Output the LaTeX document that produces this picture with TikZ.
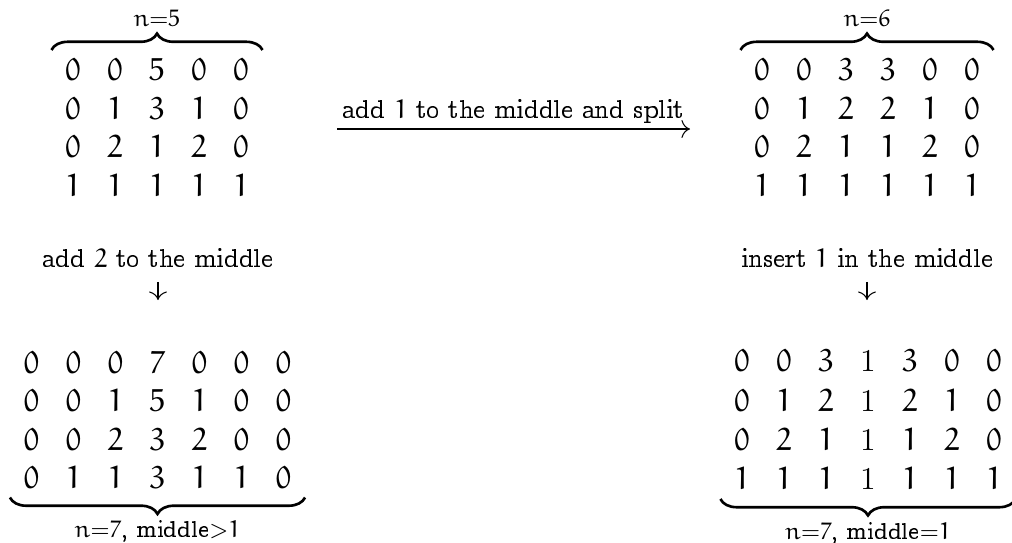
\documentclass[tikz,border=0pt]{standalone}
\usepackage[OT1]{fontenc}
\renewcommand{\rmdefault}{ccr}
\DeclareSymbolFont{eulerletters}{U}{eur}{m}{n}
\DeclareMathSymbol{0}{\mathalpha}{eulerletters}{`0}
\DeclareMathSymbol{1}{\mathalpha}{eulerletters}{`1}
\DeclareMathSymbol{2}{\mathalpha}{eulerletters}{`2}
\DeclareMathSymbol{3}{\mathalpha}{eulerletters}{`3}
\DeclareMathSymbol{5}{\mathalpha}{eulerletters}{`5}
\DeclareMathSymbol{6}{\mathalpha}{eulerletters}{`6}
\DeclareMathSymbol{7}{\mathalpha}{eulerletters}{`7}
\DeclareMathSymbol{n}{\mathalpha}{eulerletters}{`n}
\usetikzlibrary{matrix,decorations.pathreplacing,arrows.meta}
\tikzset{>={To[scale=1.3]}}
\tikzset{
  grid/.style={matrix of math nodes,inner sep=0pt,
    nodes={font=\large,minimum width=15.86pt,minimum height=14.53pt,inner sep=0pt}},
  brace/.style={decorate,decoration={brace,amplitude=6.2pt},line width=1pt},
  lbl/.style={font=\small,inner sep=0pt}
}

\begin{document}
\begin{tikzpicture}[x=0.3775pt,y=-0.3775pt]
            \draw[draw=none,use as bounding box] (0,0) rectangle (1012,543);
            % n=5
            \matrix (five) [grid] at (157,127.5) {
              0 & 0 & 5 & 0 & 0 \\
              0 & 1 & 3 & 1 & 0 \\
              0 & 2 & 1 & 2 & 0 \\
              1 & 1 & 1 & 1 & 1 \\
            };
            % n=6
            \matrix (six) [grid] at (867,127.5) {
              0 & 0 & 3 & 3 & 0 & 0 \\
              0 & 1 & 2 & 2 & 1 & 0 \\
              0 & 2 & 1 & 1 & 2 & 0 \\
              1 & 1 & 1 & 1 & 1 & 1 \\
            };
            % n=7, middle>1
            \matrix (sevenbig) [grid] at (157.5,420) {
              0 & 0 & 0 & 7 & 0 & 0 & 0 \\
              0 & 0 & 1 & 5 & 1 & 0 & 0 \\
              0 & 0 & 2 & 3 & 2 & 0 & 0 \\
              0 & 1 & 1 & 3 & 1 & 1 & 0 \\
            };
            % n=7, middle=1
            \matrix (sevenone) [grid] at (868,420) {
              0 & 0 & 3 & \mathrm{1} & 3 & 0 & 0 \\
              0 & 1 & 2 & \mathrm{1} & 2 & 1 & 0 \\
              0 & 2 & 1 & \mathrm{1} & 1 & 2 & 0 \\
              1 & 1 & 1 & \mathrm{1} & 1 & 1 & 1 \\
            };
            \draw[brace] (five.north west) -- (five.north east)
              node[lbl,midway,above=8.3pt] {$n{=}5$};
            \draw[brace] (six.north west) -- (six.north east)
              node[lbl,midway,above=8.3pt] {$n{=}6$};
            \draw[brace] (sevenbig.south east) -- (sevenbig.south west)
              node[lbl,midway,below=8.5pt] {$n{=}7$, middle${>}1$};
            \draw[brace] (sevenone.south east) -- (sevenone.south west)
              node[lbl,midway,below=8.5pt] {$n{=}7$, middle${=}1$};
            \coordinate (splitfrom) at (337,129);
            \coordinate (splitto) at (690,129);
            \draw[->] (splitfrom) -- (splitto)
              node[midway,above,inner sep=2pt] {add $1$ to the middle and split};
            \node (addtwo) at (158,258) {add $2$ to the middle};
            \node (insertone) at (867,258) {insert $1$ in the middle};
            \coordinate (addtwoend) at (158,300);
            \coordinate (insertoneend) at (867,300);
            \draw[->,shorten <=2pt] (addtwo) -- (addtwoend);
            \draw[->,shorten <=2pt] (insertone) -- (insertoneend);
        \end{tikzpicture}
\end{document}
